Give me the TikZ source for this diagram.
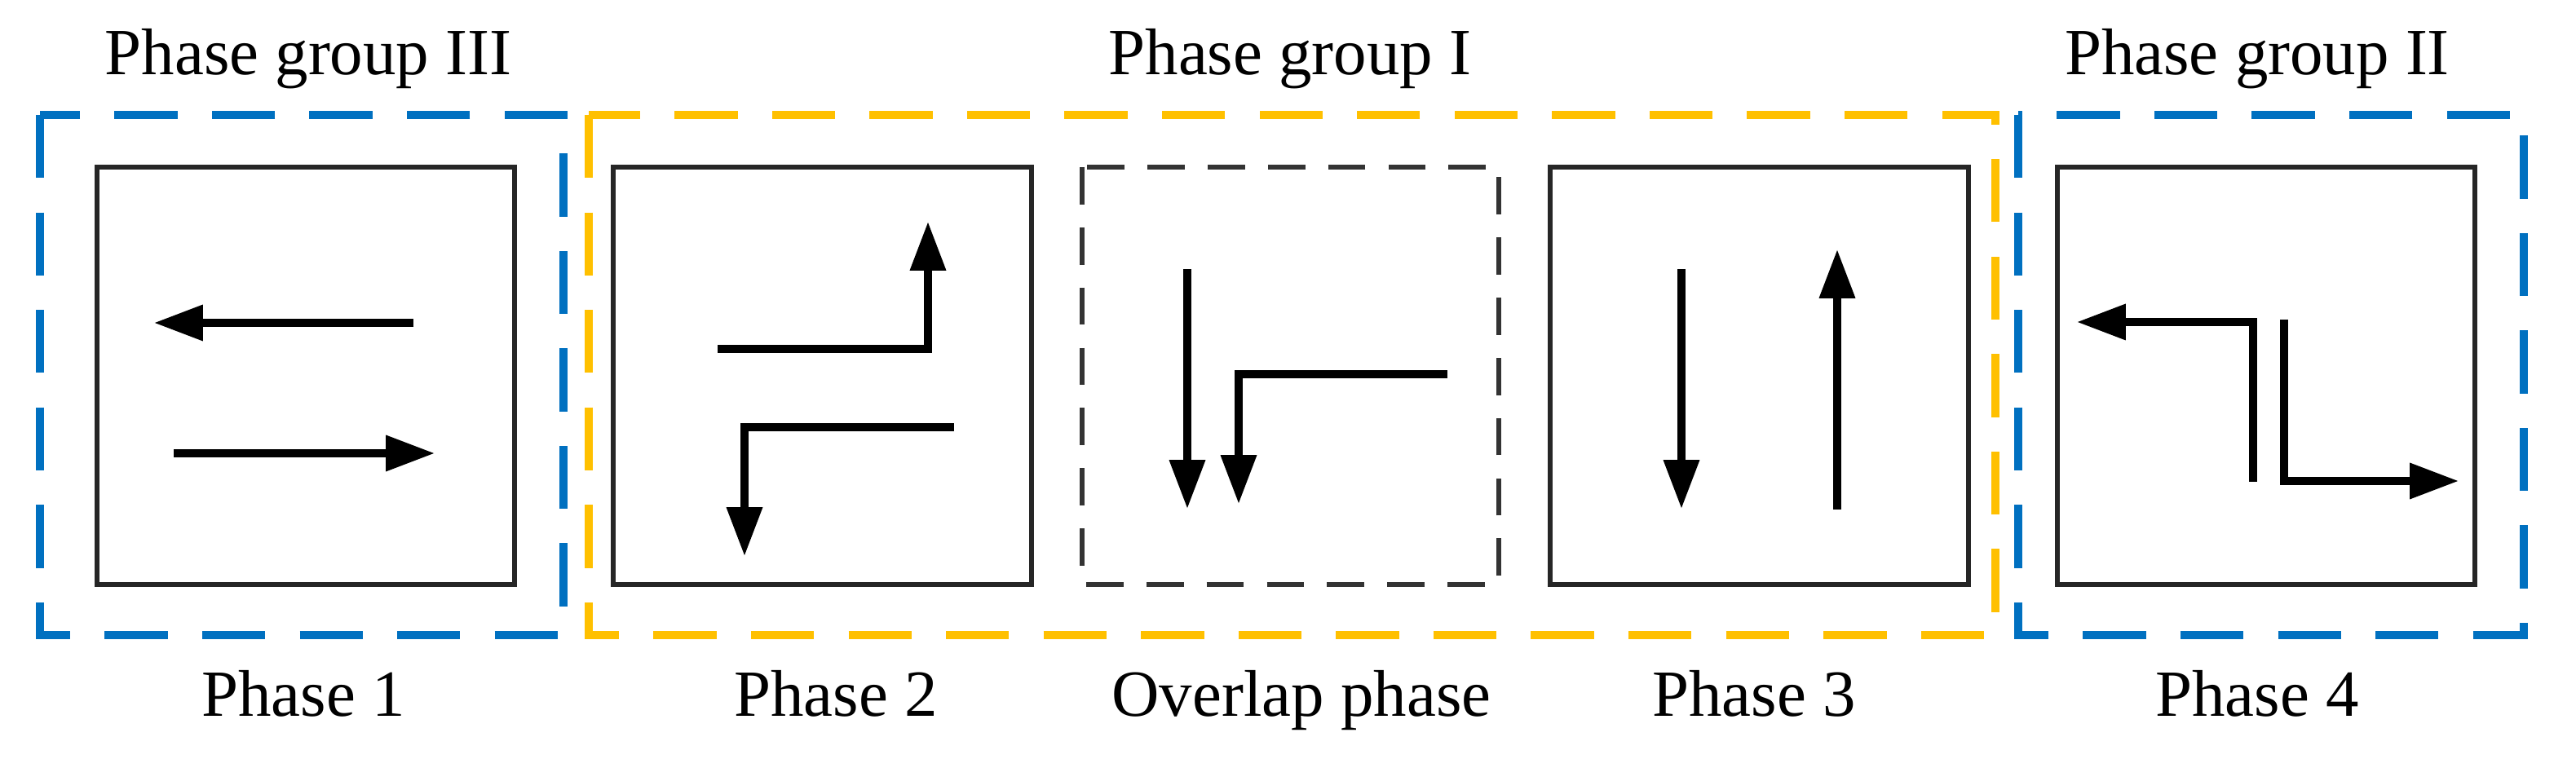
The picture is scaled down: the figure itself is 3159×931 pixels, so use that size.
\documentclass[tikz,border=0pt]{standalone}
\usepackage{fontspec}
\setmainfont{Liberation Serif}
\usetikzlibrary{arrows.meta}
\definecolor{gblue}{RGB}{0,112,192}
\definecolor{gyellow}{RGB}{255,192,0}
\begin{document}
\begin{tikzpicture}[x=0.01cm,y=-0.01cm,
  grp/.style={line width=2.8pt,dash pattern=on 22pt off 12pt},
  box/.style={line width=1.6pt,black!85},
  obox/.style={line width=1.6pt,dash pattern=on 13pt off 8pt,black!80},
  arr/.style={line width=2.6pt,-{Triangle[length=17pt,width=12pt]}},
  lbl/.style={font=\fontsize{23pt}{27pt}\selectfont,anchor=base}]
\useasboundingbox (0,0) rectangle (3159,931);
% groups
\draw[grp,gblue] (49,141) rectangle (691,779);
\draw[grp,gyellow] (722,141) rectangle (2447,779);
\draw[grp,gblue] (2475,141) rectangle (3095,779);
% phase boxes
\draw[box] (119,205) rectangle (631,717);
\draw[box] (752,205) rectangle (1265,717);
\draw[obox] (1327,205) rectangle (1838,717);
\draw[box] (1901,205) rectangle (2414,717);
\draw[box] (2523,205) rectangle (3035,717);
% titles
\node[lbl] (t3) at (378,92) {Phase group III};
\node[lbl] (t1) at (1582,92) {Phase group I};
\node[lbl] (t2) at (2768,92) {Phase group II};
\node[lbl] (p1) at (372,879) {Phase 1};
\node[lbl] (p2) at (1025,879) {Phase 2};
\node[lbl] (po) at (1596,879) {Overlap phase};
\node[lbl] (p3) at (2151,879) {Phase 3};
\node[lbl] (p4) at (2768,879) {Phase 4};
% phase 1
\draw[arr] (507,396) -- (189,396);
\draw[arr] (213,556) -- (533,556);
% phase 2
\draw[arr] (880,428) -- (1138,428) -- (1138,272);
\draw[arr] (1170,524) -- (913,524) -- (913,682);
% overlap
\draw[arr] (1456,330) -- (1456,624);
\draw[arr] (1775,459) -- (1519,459) -- (1519,618);
% phase 3
\draw[arr] (2062,330) -- (2062,624);
\draw[arr] (2253,625) -- (2253,306);
% phase 4
\draw[arr] (2763,591) -- (2763,395) -- (2547,395);
\draw[arr] (2801,392) -- (2801,590) -- (3015,590);
\end{tikzpicture}
\end{document}
